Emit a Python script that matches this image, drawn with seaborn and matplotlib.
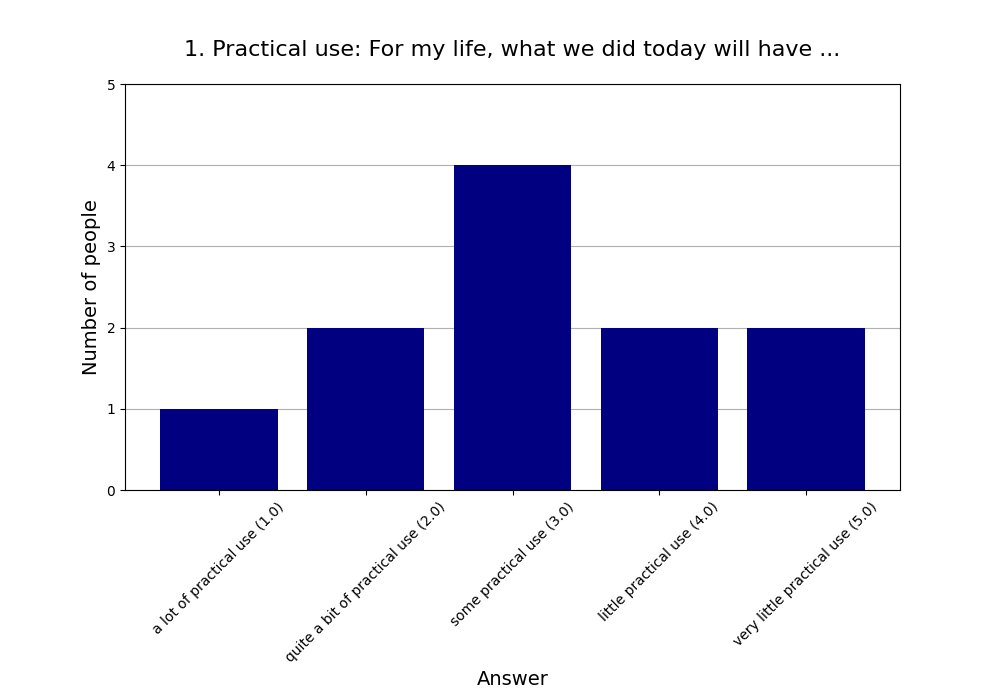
import matplotlib
matplotlib.use("Agg")
import matplotlib.pyplot as plt
import seaborn as sns
import pandas as pd

answers = [
    "a lot of practical use (1.0)",
    "quite a bit of practical use (2.0)",
    "some practical use (3.0)",
    "little practical use (4.0)",
    "very little practical use (5.0)",
]
counts = [1, 2, 4, 2, 2]

sns.set_style("white")
plt.rcParams['font.family'] = ['DejaVu Sans']
plt.rcParams['text.color'] = 'black'
plt.rcParams['axes.labelcolor'] = 'black'

fig, ax = plt.subplots(figsize=(10, 7), dpi=100)
fig.subplots_adjust(left=0.125, right=0.9, top=0.88, bottom=0.3)

df = pd.DataFrame({"Answer": answers, "Count": counts})
sns.barplot(data=df, x="Answer", y="Count", color="navy", saturation=1, width=0.8,
            linewidth=0, edgecolor="navy", ax=ax)

# matplotlib-like default x margins
ax.set_xlim(-0.64, len(answers) - 1 + 0.64)
ax.set_ylim(0, 5)
ax.set_yticks(range(6))
ax.yaxis.grid(True, color="#b0b0b0", linewidth=0.8)
ax.set_axisbelow(True)
for s in ax.spines.values():
    s.set_visible(True)
    s.set_color("black")
    s.set_linewidth(0.8)
ax.tick_params(axis="both", which="both", bottom=True, left=True, length=3.5, width=0.8, labelsize=10, colors="black")
plt.setp(ax.get_xticklabels(), rotation=45, ha="center")

ax.set_title("1. Practical use: For my life, what we did today will have ...", fontsize=16, pad=20, color="black")
ax.set_xlabel("Answer", fontsize=14)
ax.set_ylabel("Number of people", fontsize=14)

fig.savefig("out.png", dpi=100)
plt.close(fig)
